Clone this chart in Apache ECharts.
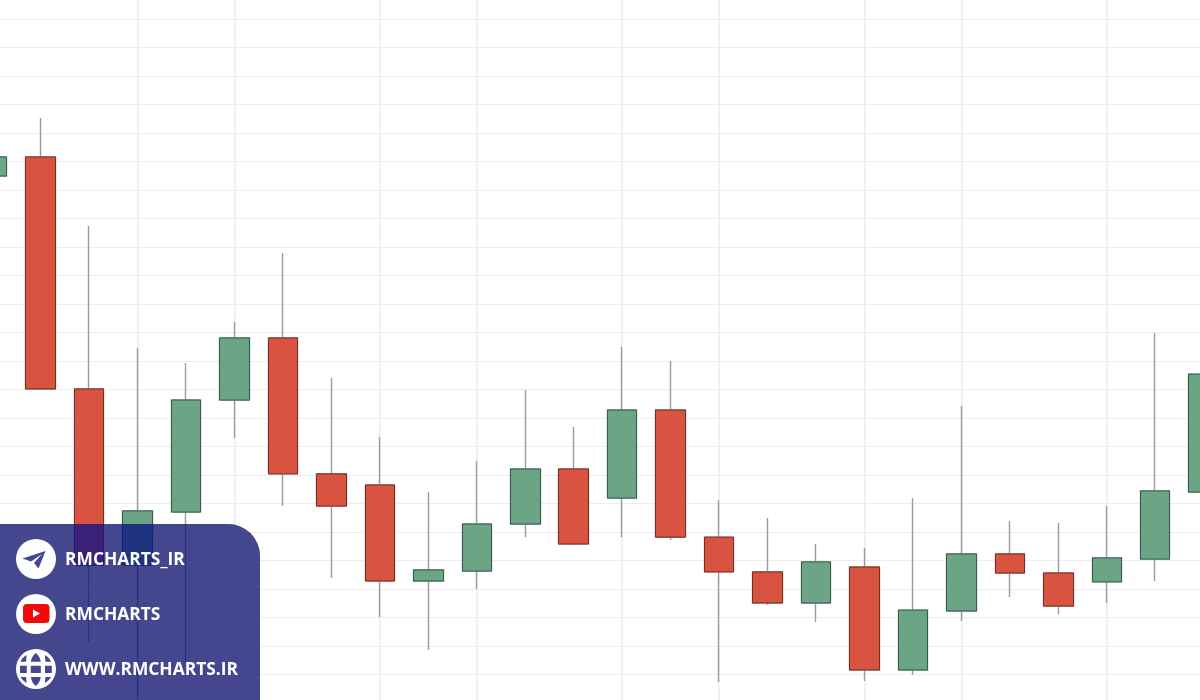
<!DOCTYPE html>
<html>
<head>
<meta charset="utf-8">
<style>html,body{margin:0;padding:0;background:#fff}#c{width:1200px;height:700px}</style>
<script src="https://cdn.jsdelivr.net/npm/echarts@6/dist/echarts.min.js"></script>
</head>
<body>
<div id="c"></div>
<script>
const categories = ['1','2','3','4','5','6','7','8','9','10','11','12','13','14','15','16','17','18','19','20','21','22','23','24','25','26'];
const opens  = [184.9,191.6,110.2,48.4,67.0,106.3,128.1,80.4,76.5,42.8,46.3,62.8,82.1,71.9,102.8,58.2,46.0,35.1,47.7,11.6,32.3,52.3,45.6,42.5,50.5,74.0];
const closes = [191.6,110.2,48.4,67.4,106.3,128.1,80.4,69.1,42.8,46.7,62.8,82.1,55.8,102.8,58.2,46.0,35.1,49.5,11.6,32.6,52.3,45.6,34.0,50.9,74.4,115.4];
const highs  = [191.6,205.3,167.4,124.6,119.3,133.7,157.9,114.0,93.3,74.0,84.9,109.8,96.8,124.9,120.0,71.2,64.9,55.8,54.4,71.9,104.2,63.9,63.2,69.1,129.8,125.0];
const lows   = [184.9,109.8,21.4,1.1,14.0,93.0,69.1,43.9,30.2,18.6,40.0,58.2,55.4,58.2,57.2,7.4,34.4,28.4,7.7,9.8,28.8,37.2,31.2,35.1,42.8,70.0];
const gridMarks = ['4','6','9','11','14','16','19','21','24'];
const contactLabels = ['RMCHARTS_IR','RMCHARTS','WWW.RMCHARTS.IR'];

const UP='#6ba585', UP_B='#2f5f4c', DOWN='#d85340', DOWN_B='#7c2a22', WICK='#9b9b9b', PANEL='#45478f';
const wickData = categories.map((_,i)=>[opens[i],closes[i],lows[i],highs[i]]);
const bodyData = categories.map((_,i)=>[opens[i],closes[i],Math.min(opens[i],closes[i]),Math.max(opens[i],closes[i])]);

echarts.graphic.registerShape('globeCells', echarts.graphic.extendPath('M30.8,665.8 H40.8 V673 H30.8 Z M20,665.8 H26.8 V673 H20 Z M45,665.8 H51.8 V673 H45 Z M35.8,653 C33,655 31.5,658 30.8,661.8 H40.8 C40.1,658 38.6,655 35.8,653 Z M35.8,686 C33,684 31.5,681 30.8,677 H40.8 C40.1,681 38.6,684 35.8,686 Z M26.5,655 C23.5,657 21.5,659 20.5,661.8 H26 C26.3,659.5 26.5,657 26.5,655 Z M45,655 C48,657 50,659 51,661.8 H45.5 C45.2,659.5 45,657 45,655 Z M26.5,683 C23.5,681 21.5,679 20.5,677 H26 C26.3,679 26.5,681 26.5,683 Z M45,683 C48,681 50,679 51,677 H45.5 C45.2,679 45,681 45,683 Z', {}));

const font = {fontFamily:'"Open Sans"',fontWeight:700,fontSize:17.4,fill:'#fff'};
const label=(t,y)=>({type:'text',x:65,y:y+1.5,z:103,style:Object.assign({text:t,textVerticalAlign:'middle'},font)});
const disc=(y)=>({type:'circle',z:101,shape:{cx:36,cy:y,r:20},style:{fill:'#fff'}});

const chart = echarts.init(document.getElementById('c'),null,{renderer:'canvas'});
chart.setOption({
  backgroundColor:'#ffffff',
  animation:false,
  grid:{left:-7.8,top:-9.5,width:1211.5,height:712.5,containLabel:false,outerBoundsMode:'none'},
  xAxis:{type:'category',data:categories,boundaryGap:false,
    axisLine:{show:false},axisTick:{show:false},axisLabel:{show:false},
    splitLine:{show:true,interval:(i,v)=>gridMarks.includes(v),lineStyle:{color:'#ececf0',width:1.5}}},
  yAxis:{type:'value',min:0,max:250,interval:10,
    axisLine:{show:false},axisTick:{show:false},axisLabel:{show:false},
    splitLine:{show:true,lineStyle:{color:'#ededf0',width:1.2}}},
  series:[
    {type:'candlestick',name:'wick',data:wickData,barWidth:30,z:2,silent:true,
      itemStyle:{color:WICK,color0:WICK,borderColor:WICK,borderColor0:WICK,borderWidth:1.4}},
    {type:'candlestick',name:'body',data:bodyData,barWidth:30,z:3,silent:true,
      itemStyle:{color:UP,color0:DOWN,borderColor:UP_B,borderColor0:DOWN_B,borderWidth:1}}
  ],
  graphic:[
    {type:'rect',z:99,shape:{x:0,y:524,width:260,height:176,r:[0,32,0,0]},style:{fill:'rgb(134,114,61)',blend:'multiply'}},
    {type:'rect',z:100,shape:{x:0,y:524,width:260,height:176,r:[0,32,0,0]},style:{fill:'rgba(4,28,224,0.5)'}},
    disc(559),disc(614),disc(669),
    {type:'polygon',z:102,shape:{points:[[45.5,551],[22.5,558.5],[31,561.5],[42,554],[34,563],[38.5,568.5]]},style:{fill:PANEL}},
    {type:'rect',z:102,shape:{x:23,y:604,width:26.5,height:19,r:4},style:{fill:'#f00a0a'}},
    {type:'polygon',z:103,shape:{points:[[33,609.5],[33,617.5],[40,613.5]]},style:{fill:'#fff'}},
    {type:'globeCells',z:102,style:{fill:PANEL}},
    label(contactLabels[0],559),label(contactLabels[1],614),label(contactLabels[2],669)
  ]
});
</script>
</body>
</html>
